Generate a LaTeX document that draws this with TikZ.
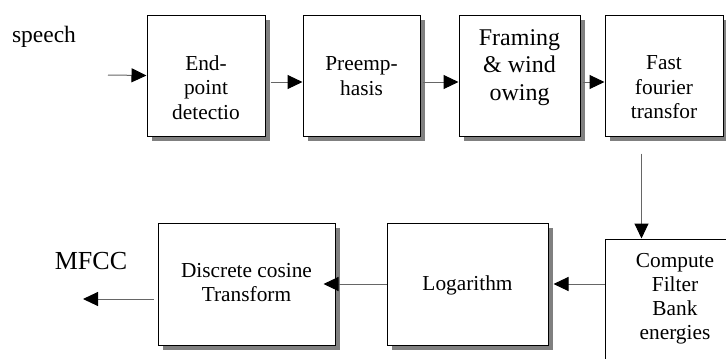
\documentclass[tikz,border=0pt]{standalone}
\usepackage{fontspec}
\setmainfont{Liberation Serif}
\usetikzlibrary{arrows.meta}
\usetikzlibrary{calc}
\usetikzlibrary{shadows}

\tikzset{
  blk/.style={draw, fill=white, line width=0.75pt, inner sep=0pt,
    drop shadow={shadow xshift=3.75pt, shadow yshift=-3.75pt, fill=black!50, opacity=1}},
  txt/.style={align=center, inner sep=0pt, font=\fontsize{16}{18.4}\selectfont},
  conn/.style={draw=black!60, line width=0.75pt, -{Triangle[length=11.25pt, width=10.5pt, color=black]}},
}

\begin{document}
\begin{tikzpicture}[x=0.75pt,y=0.75pt,yscale=-1,xscale=1]
			\clip (0,0) rectangle (726,358);
			
			%Blocks
			\node[blk, minimum width=88.5pt, minimum height=90.75pt] (b1) at (206,75.5) {};
			\node[blk, minimum width=87.75pt, minimum height=90.75pt] (b2) at (361.5,75.5) {};
			\node[blk, minimum width=90.75pt, minimum height=90.75pt] (b3) at (519.5,75.5) {};
			\node[blk, minimum width=88.5pt, minimum height=90.75pt] (b4) at (664,75.5) {};
			\node[blk, minimum width=105pt, minimum height=105pt] (b5) at (675,309) {};
			\node[blk, minimum width=120.75pt, minimum height=91.5pt] (b6) at (467.5,284) {};
			\node[blk, minimum width=132.75pt, minimum height=91.5pt] (b7) at (246.5,284) {};
			
			% Text Nodes
			\node[txt] (t1) at (206,87.5) {End-\\point\\detectio};
			\node[txt] (t2) at (361.5,76) {Preemp-\\hasis};
			\node[txt, font=\fontsize{18}{20.6}\selectfont] (t3) at (519.5,67.5) {Framing\\\& wind\\owing};
			\node[txt] (t4) at (664,87.5) {Fast\\fourier\\transfor};
			\node[txt, font=\fontsize{16}{18}\selectfont] (t5) at (675,299) {Compute\\Filter\\Bank\\energies};
			\node[txt] (t6) at (467.5,285) {Logarithm};
			\node[txt] (t7) at (246.5,282.5) {Discrete cosine\\Transform};
			\node[font=\fontsize{17.6}{20}\selectfont] (speech) at (44,37) {speech};
			\node[font=\fontsize{19.5}{22}\selectfont] (mfcc) at (91,261) {MFCC};
			
			% Connectors
			\coordinate (sp) at (108,75);
			\coordinate (mf) at (83,299);
			\draw[conn] (sp) -- (b1.west);
			\draw[conn] ($(b1.east)+(5,6.5)$) -- ($(b2.west)+(0,6.5)$);
			\draw[conn] ($(b2.east)+(2,6.5)$) -- ($(b3.west)+(0,6.5)$);
			\draw[conn] ($(b3.east)+(2,6.5)$) -- ($(b4.west)+(0,6.5)$);
			\draw[conn] ($(b4.south west)+(37,17)$) -- ($(b5.north west)+(37,0)$);
			\draw[conn] (b5.west |- b6.east) -- ($(b6.east)+(5,0)$);
			\draw[conn] (b6.west) -- ($(b7.east)+(-12,0)$);
			\draw[conn] ($(b7.west)+(-4,15)$) -- (mf);
			
\end{tikzpicture}
\end{document}
